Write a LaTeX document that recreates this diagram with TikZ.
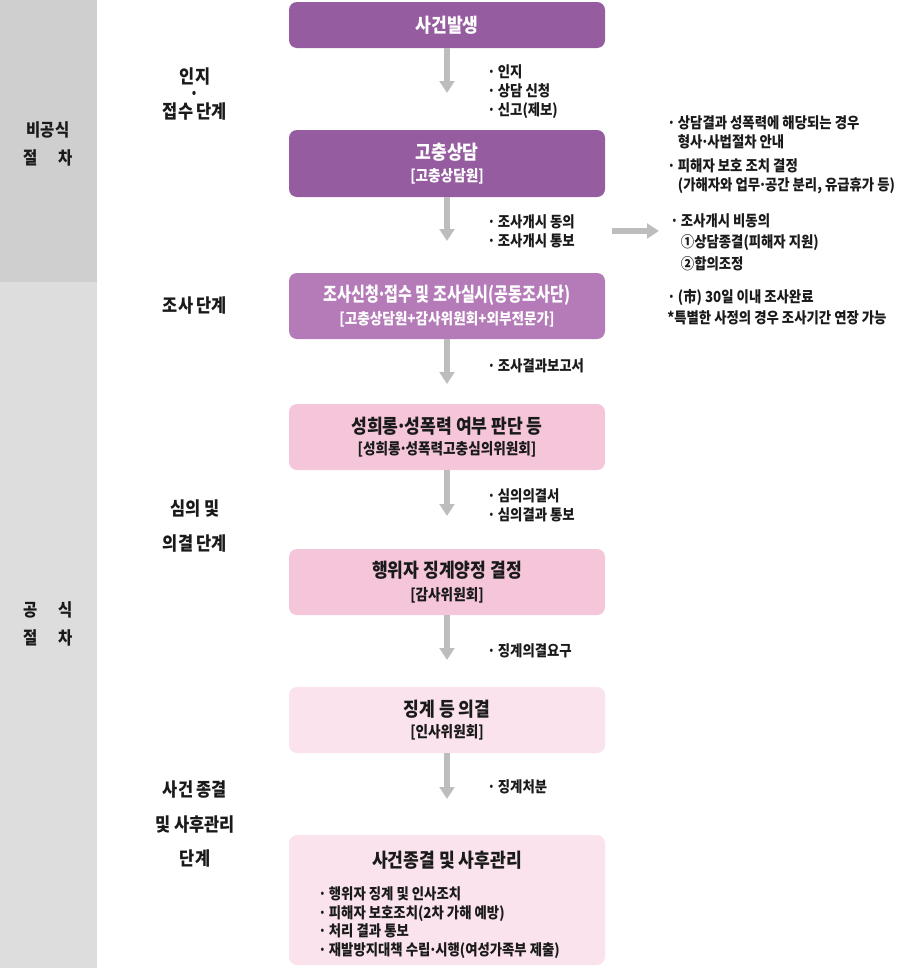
\documentclass[tikz,border=0pt]{standalone}
\usepackage{fontspec}
\setmainfont{Noto Sans CJK KR}[FakeStretch=0.88]
\usetikzlibrary{arrows.meta}
\definecolor{bandA}{HTML}{CFCFCF}
\definecolor{bandB}{HTML}{DDDDDD}
\definecolor{purA}{HTML}{955CA0}
\definecolor{purB}{HTML}{B47BB8}
\definecolor{pinkA}{HTML}{F5C5DA}
\definecolor{pinkB}{HTML}{FAE3ED}
\definecolor{arrowgray}{HTML}{BDBDBD}
\definecolor{txt}{HTML}{1A1A1A}
\newcommand{\md}{\makebox[0.32em][c]{·}}
\newcommand{\bl}{\makebox[0.7em][l]{·}}
\tikzset{
  box/.style={rounded corners=6pt, minimum width=237pt, inner sep=0pt, align=center, font=\bfseries},
  flowarrow/.style={draw=arrowgray, line width=3.8pt, -{Triangle[width=11pt,length=9pt]}},
  note/.style={anchor=west, align=left, inner sep=0pt, text=txt, font=\fontsize{11.4pt}{14.2pt}\selectfont\bfseries},
  stage/.style={align=center, inner sep=0pt, text=txt, font=\fontsize{14pt}{26pt}\selectfont\bfseries},
  side/.style={align=center, inner sep=0pt, text=txt, font=\fontsize{13.2pt}{21pt}\selectfont\bfseries},
}
\newcommand{\ttl}{\fontsize{14.6pt}{17pt}\selectfont}
\newcommand{\sbt}{\fontsize{11.6pt}{13pt}\selectfont}
\begin{document}
\begin{tikzpicture}[x=0.75pt,y=-0.75pt]
\useasboundingbox (0,0) rectangle (900,968);
% side bands
\fill[bandA] (0,0) rectangle (97,282);
\fill[bandB] (0,282) rectangle (97,968);
\node[side] (s1) at (48,144) {비공식\\절\hspace{1.15em}차};
\node[side] (s2) at (48,624) {공\hspace{1.15em}식\\절\hspace{1.15em}차};
% stage labels
\node[stage, font=\fontsize{14pt}{14pt}\selectfont\bfseries] (st1) at (195,94) {인지\\[-1pt]·\\[-0.5pt]접수 단계};
\node[stage] (st2) at (195,306) {조사 단계};
\node[stage] (st3) at (195,526) {심의 및\\의결 단계};
\node[stage] (st4) at (195,824) {사건 종결\\및 사후관리\\단계};
% boxes
\node[box, fill=purA, text=white, minimum height=34.5pt] (b1) at (447,25) {\ttl 사건발생};
\node[box, fill=purA, text=white, minimum height=50.25pt] (b2) at (447,163.5) {\ttl 고충상담\\[5pt]\sbt [고충상담원]};
\node[box, fill=purB, text=white, minimum height=49.5pt] (b3) at (447,306) {\ttl\scalebox{0.88}[1]{조사신청\md 접수 및 조사실시(공동조사단)}\\[3pt]\sbt [고충상담원+감사위원회+외부전문가]};
\node[box, fill=pinkA, text=txt, minimum height=49.5pt] (b4) at (447,437) {\ttl 성희롱\md 성폭력 여부 판단 등\\[4pt]\sbt [성희롱\md 성폭력고충심의위원회]};
\node[box, fill=pinkA, text=txt, minimum height=49.5pt] (b5) at (447,582) {\ttl 행위자 징계양정 결정\\[5pt]\sbt [감사위원회]};
\node[box, fill=pinkB, text=txt, minimum height=49.5pt] (b6) at (447,720) {\ttl 징계 등 의결\\[4pt]\sbt [인사위원회]};
\node[box, fill=pinkB, text=txt, minimum height=97.5pt] (b7) at (447,900) {};
\node[inner sep=0pt, text=txt, font=\ttl\bfseries] (b7t) at (447,860) {사건종결 및 사후관리};
\node[note, anchor=north west] (b7l) at (318,886) {\bl 행위자 징계 및 인사조치\\\bl 피해자 보호조치(2차 가해 예방)\\\bl 처리 결과 통보\\\bl 재발방지대책 수립\md 시행(여성가족부 제출)};
% arrow ends
\coordinate (e1) at (447,93);
\coordinate (e2) at (447,241);
\coordinate (e3) at (447,384);
\coordinate (e4) at (447,516);
\coordinate (e5) at (447,660);
\coordinate (e6) at (447,799);
\coordinate (h1) at (612,231);
\coordinate (h2) at (659,231);
\draw[flowarrow] (b1.south) -- (e1);
\draw[flowarrow] (b2.south) -- (e2);
\draw[flowarrow] (b3.south) -- (e3);
\draw[flowarrow] (b4.south) -- (e4);
\draw[flowarrow] (b5.south) -- (e5);
\draw[flowarrow] (b6.south) -- (e6);
\draw[flowarrow] (h1) -- (h2);
% arrow labels
\node[note] (l1) at (487,92) {\bl 인지\\\bl 상담 신청\\\bl 신고(제보)};
\node[note] (l2) at (487,231) {\bl 조사개시 동의\\\bl 조사개시 통보};
\node[note] (l3) at (487,366) {\bl 조사결과보고서};
\node[note] (l4) at (487,505) {\bl 심의의결서\\\bl 심의결과 통보};
\node[note] (l5) at (487,651) {\bl 징계의결요구};
\node[note] (l6) at (487,787) {\bl 징계처분};
% right notes
\node[note] (r1) at (667,132) {\bl 상담결과 성폭력에 해당되는 경우\\\hspace{0.7em}형사\md 사법절차 안내};
\node[note] (r2) at (667,176) {\bl 피해자 보호 조치 결정\\\hspace{0.7em}(가해자와 업무\md 공간 분리, 유급휴가 등)};
\node[note, font=\fontsize{11.4pt}{16pt}\selectfont\bfseries] (r3) at (670,242) {\bl 조사개시 비동의\\\hspace{0.7em}①상담종결(피해자 지원)\\\hspace{0.7em}②합의조정};
\node[note, font=\fontsize{11.4pt}{16pt}\selectfont\bfseries] (r4) at (667,307.5) {\bl (市) 30일 이내 조사완료\\*특별한 사정의 경우 조사기간 연장 가능};
\end{tikzpicture}
\end{document}
